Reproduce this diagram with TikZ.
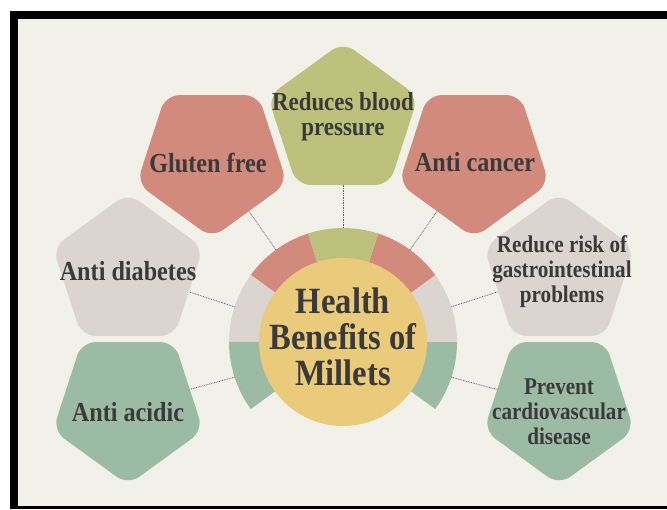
\documentclass[tikz,border=0pt]{standalone}
\usepackage{fontspec}
\newfontfamily\millfont{Liberation Serif}[FakeStretch=0.88]
\usetikzlibrary{shapes.geometric, calc}

\definecolor{paper}{HTML}{F1F1EA}
\definecolor{salmon}{HTML}{D28A7C}
\definecolor{olive}{HTML}{BEC17B}
\definecolor{stone}{HTML}{DCD5CF}
\definecolor{sage}{HTML}{9CBBA5}
\definecolor{corn}{HTML}{E9CB7B}
\definecolor{ink}{HTML}{3A3A3A}

\begin{document}
\begin{tikzpicture}[
    x=1pt, y=1pt,
    petal/.style={
        regular polygon,
        regular polygon sides=5,
        minimum size=158pt,
        inner sep=0pt,
        rounded corners=14pt
    },
    petalup/.style={
        petal
    },
    petaldown/.style={
        petal,
        shape border rotate=180
    },
    caption/.style={
        font=\millfont\bfseries\fontsize{24}{25}\selectfont,
        text=ink,
        align=center,
        inner sep=0pt
    },
    midcaption/.style={
        caption,
        font=\millfont\bfseries\fontsize{26}{25}\selectfont
    },
    bigcaption/.style={
        caption,
        font=\millfont\bfseries\fontsize{27.5}{25}\selectfont
    },
    title/.style={
        caption,
        font=\millfont\bfseries\fontsize{37}{36}\selectfont
    },
    hub/.style={
        circle,
        fill=corn,
        minimum size=168pt,
        inner sep=0pt
    },
    link/.style={
        draw=ink!80,
        line width=0.8pt,
        dash pattern=on 0.8pt off 0.9pt
    }
]

    \useasboundingbox (0,0) rectangle (667,509);

    % Frame
    \fill[white] (0,0) rectangle (667,509);
    \fill[black] (10,0) rectangle (667,498);
    \fill[paper] (18,3) rectangle (667,490);

    % Ring
    \coordinate (centre) at (343,167);
    \foreach \a/\c in {-36/sage, 0/stone, 36/salmon, 72/olive, 108/salmon, 144/stone, 180/sage}
        \fill[\c] ($(centre)+(\a:80)$) arc[start angle=\a, delta angle=36, radius=80pt]
            -- ($(centre)+({\a+36}:114)$) arc[start angle=\a+36, delta angle=-36, radius=114pt] -- cycle;

    % Centre
    \node[hub] (hub) at (centre) {};
    \node[title] (hub-t) at ($(centre)+(0,5)$) {Health\\Benefits of\\Millets};

    % Benefits
    \node[petalup, fill=olive] (blood) at (343,388) {};
    \node[midcaption] (blood-t) at ($(blood)+(0,4)$) {Reduces blood\\pressure};

    \node[petaldown, fill=salmon] (gluten) at (212,350) {};
    \node[bigcaption] (gluten-t) at ($(gluten)+(-4,-4)$) {Gluten free};

    \node[petaldown, fill=salmon] (cancer) at (474,350) {};
    \node[bigcaption] (cancer-t) at ($(cancer)+(1,-3)$) {Anti cancer};

    \node[petalup, fill=stone] (diabetes) at (128,237) {};
    \node[bigcaption] (diabetes-t) at ($(diabetes)+(0,1)$) {Anti diabetes};

    \node[petalup, fill=stone] (gastro) at (559,237) {};
    \node[caption] (gastro-t) at ($(gastro)+(3,0)$) {Reduce risk of\\gastrointestinal\\problems};

    \node[petaldown, fill=sage] (acidic) at (128,103) {};
    \node[bigcaption] (acidic-t) at ($(acidic)+(0,-6)$) {Anti acidic};

    \node[petaldown, fill=sage] (cardio) at (559,103) {};
    \node[caption] (cardio-t) at ($(cardio)+(0,-6)$) {Prevent\\cardiovascular\\disease};

    % Connections
    \coordinate (r-blood) at ($(centre)+(90:114)$);
    \coordinate (r-gluten) at ($(centre)+(126:114)$);
    \coordinate (r-cancer) at ($(centre)+(54:114)$);
    \coordinate (r-diabetes) at ($(centre)+(162:114)$);
    \coordinate (r-gastro) at ($(centre)+(18:114)$);
    \coordinate (r-acidic) at ($(centre)+(198:114)$);
    \coordinate (r-cardio) at ($(centre)+(-18:114)$);

    \draw[link] (r-blood) -- (blood);
    \draw[link] (r-gluten) -- (gluten);
    \draw[link] (r-cancer) -- (cancer);
    \draw[link] (r-diabetes) -- (diabetes);
    \draw[link] (r-gastro) -- (gastro);
    \draw[link] (r-acidic) -- (acidic);
    \draw[link] (r-cardio) -- (cardio);

\end{tikzpicture}
\end{document}
